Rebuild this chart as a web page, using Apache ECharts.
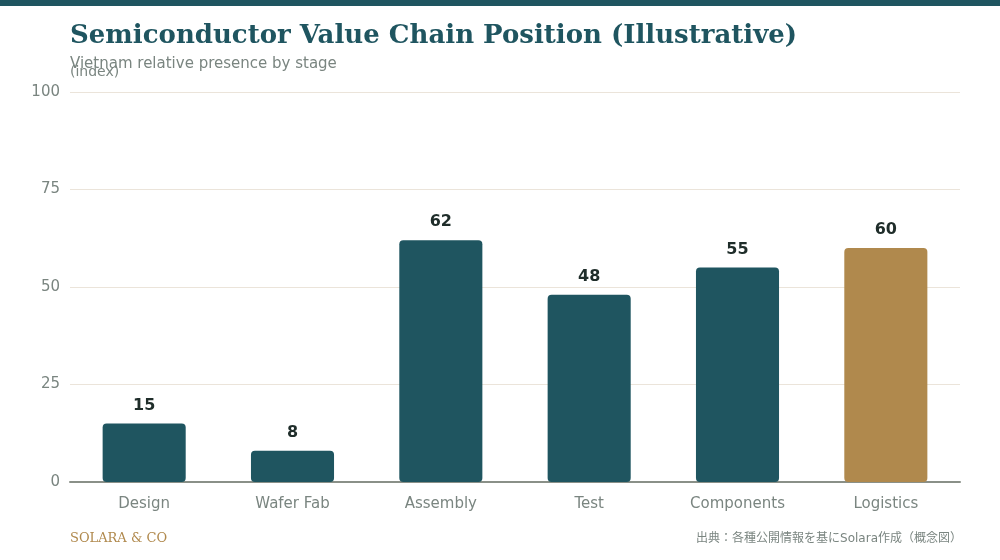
<!DOCTYPE html>
<html>
<head>
<meta charset="utf-8">
<script src="https://cdn.jsdelivr.net/npm/echarts@6/dist/echarts.min.js"></script>
<style>
  html, body { margin: 0; padding: 0; background: #ffffff; }
  #chart { width: 1000px; height: 560px; }
</style>
</head>
<body>
<div id="chart"></div>
<script>
var stages = ['Design', 'Wafer Fab', 'Assembly', 'Test', 'Components', 'Logistics'];
var presence = [15, 8, 62, 48, 55, 60];
var highlightStage = 'Logistics';

var teal = '#1f5560';
var gold = '#b0894d';

var chart = echarts.init(document.getElementById('chart'));

var barData = [];
for (var i = 0; i < stages.length; i++) {
  barData.push({
    value: presence[i],
    itemStyle: { color: stages[i] === highlightStage ? gold : teal }
  });
}

var option = {
  backgroundColor: '#ffffff',
  animation: false,
  graphic: [
    { type: 'rect', left: 0, top: 0, shape: { width: 1000, height: 6 }, style: { fill: teal } },
    {
      type: 'text', left: 70, top: 23,
      style: { text: 'Semiconductor Value Chain Position (Illustrative)', fill: teal,
        font: 'bold 26px "DejaVu Serif", serif' }
    },
    {
      type: 'text', left: 70, top: 57,
      style: { text: 'Vietnam relative presence by stage', fill: '#7a8580',
        font: '15px "DejaVu Sans", sans-serif' }
    },
    {
      type: 'text', left: 70, top: 532,
      style: { text: 'SOLARA & CO', fill: gold, font: '13px "DejaVu Serif", serif' }
    },
    {
      type: 'text', right: 38, top: 533,
      style: { text: '出典：各種公開情報を基にSolara作成（概念図）', fill: '#7a8580',
        font: '12px "DejaVu Sans", "Noto Sans CJK JP", sans-serif' }
    }
  ],
  grid: { left: 70, right: 40, top: 92, bottom: 78 },
  xAxis: {
    type: 'category',
    data: stages,
    axisLine: { lineStyle: { color: '#8a9088', width: 2 } },
    axisTick: { show: false },
    axisLabel: { color: '#7a8580', fontSize: 15, margin: 15, fontFamily: 'DejaVu Sans' }
  },
  yAxis: {
    type: 'value',
    min: 0,
    max: 100,
    interval: 25,
    name: '(index)',
    nameLocation: 'end',
    nameGap: 13,
    nameTextStyle: { color: '#7a8580', fontSize: 14, align: 'left', fontFamily: 'DejaVu Sans' },
    axisLine: { show: false },
    axisTick: { show: false },
    axisLabel: { color: '#7a8580', fontSize: 15, margin: 10, fontFamily: 'DejaVu Sans' },
    splitLine: { lineStyle: { color: '#ebe4da', width: 1 } }
  },
  series: [{
    type: 'bar',
    data: barData,
    barWidth: '56%',
    itemStyle: { borderRadius: 4 },
    label: {
      show: true,
      position: 'top',
      distance: 10,
      color: '#1f2d2a',
      fontSize: 16,
      fontWeight: 'bold',
      fontFamily: 'DejaVu Sans'
    }
  }]
};

chart.setOption(option);
</script>
</body>
</html>
